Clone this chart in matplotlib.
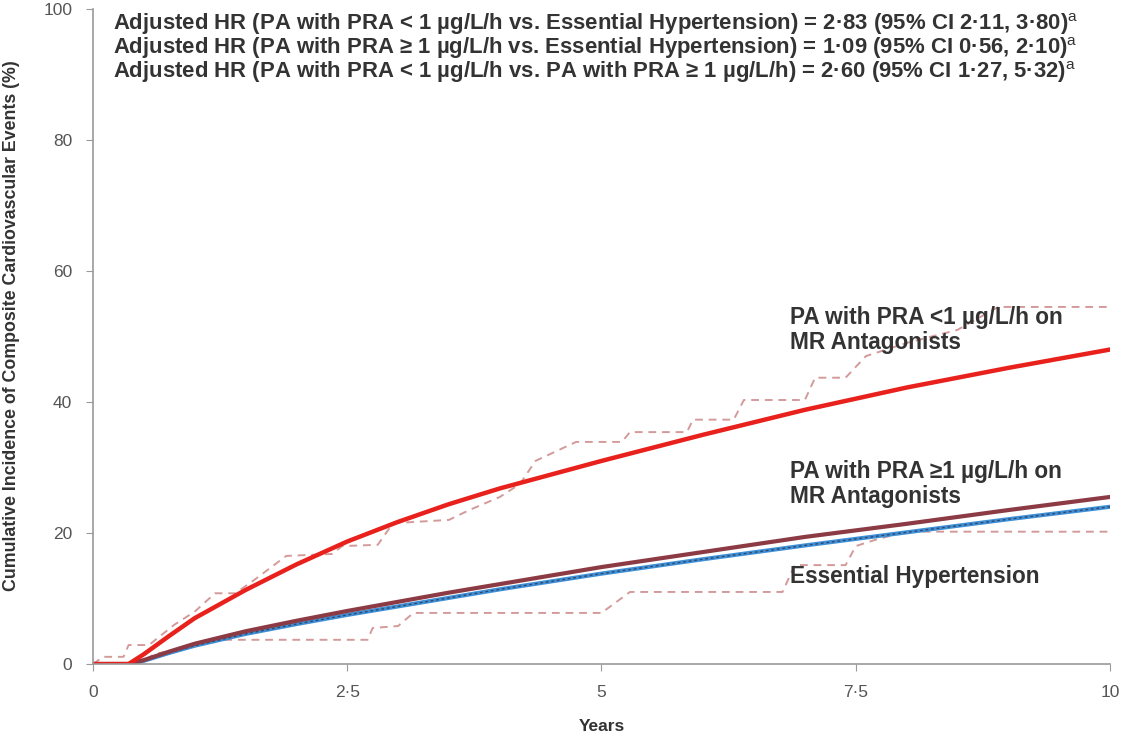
import matplotlib
matplotlib.use("Agg")
import matplotlib.pyplot as plt
from matplotlib.ticker import FuncFormatter

plt.rcParams['font.family'] = ['Liberation Sans', 'DejaVu Sans']
plt.rcParams['mathtext.fontset'] = 'custom'
plt.rcParams['mathtext.rm'] = 'Liberation Sans'

# fitted cumulative incidence curves (years, %)
years = [0, 0.35, 0.5, 0.75, 1.0, 1.5, 2.0, 2.5, 3.0, 3.5, 4.0, 5.0, 6.0, 7.0, 8.0, 9.0, 10.0]
pra_low = [0, 0, 1.5, 4.3, 7.0, 11.3, 15.2, 18.7, 21.7, 24.4, 26.8, 31.0, 35.0, 38.8, 42.2, 45.2, 48.0]
pra_high = [0, 0, 0.6, 1.9, 3.1, 5.0, 6.6, 8.1, 9.5, 10.9, 12.2, 14.8, 17.1, 19.4, 21.4, 23.5, 25.5]
essential = [0, 0, 0.5, 1.7, 2.8, 4.6, 6.1, 7.5, 8.8, 10.1, 11.4, 13.8, 16.0, 18.1, 20.1, 22.1, 24.0]

# 95% CI for PRA < 1 (step-like dashed lines)
ci_up_t = [0, 0.1, 0.3, 0.35, 0.55, 0.8, 1.0, 1.2, 1.4, 1.6, 1.9, 2.35, 2.45, 2.8, 2.95, 3.5, 3.7,
           4.0, 4.2, 4.35, 4.75, 5.2, 5.28, 5.84, 5.9, 6.3, 6.4, 7.0, 7.1, 7.4, 7.6, 8.0, 8.5, 8.9, 10]
ci_up = [0, 1.1, 1.1, 2.9, 2.9, 6.0, 8.0, 10.8, 10.8, 13.0, 16.5, 16.8, 18.0, 18.2, 21.5, 22.0, 23.5,
         25.5, 27.5, 31.0, 33.9, 33.9, 35.4, 35.4, 37.3, 37.3, 40.3, 40.3, 43.7, 43.7, 47.0, 49.0, 51.0, 54.5, 54.5]
ci_lo_t = [0, 0.45, 0.6, 0.9, 1.15, 2.7, 2.75, 3.0, 3.15, 5.0, 5.28, 6.78, 6.9, 7.4, 7.5, 7.7, 8.0, 10]
ci_lo = [0, 0, 1.5, 2.5, 3.7, 3.7, 5.5, 5.8, 7.8, 7.8, 11.0, 11.0, 15.1, 15.1, 18.0, 19.0, 20.2, 20.2]

hr_lines = [
    "Adjusted HR (PA with PRA < 1 µg/L/h vs. Essential Hypertension) = 2·83 (95% CI 2·11, 3·80)",
    "Adjusted HR (PA with PRA ≥ 1 µg/L/h vs. Essential Hypertension) = 1·09 (95% CI 0·56, 2·10)",
    "Adjusted HR (PA with PRA < 1 µg/L/h vs. PA with PRA ≥ 1 µg/L/h) = 2·60 (95% CI 1·27, 5·32)",
]

fig = plt.figure(figsize=(11.3, 7.37), dpi=100)
ax = fig.add_axes([0.0823, 0.099, 0.9, 0.889])

ax.plot(ci_up_t, ci_up, color='#d49a9a', lw=1.4, ls=(0, (4, 3)))
ax.plot(ci_lo_t, ci_lo, color='#d49a9a', lw=1.4, ls=(0, (4, 3)))
ax.plot(years, essential, color='#3d8fd6', lw=3)
ax.plot(years, essential, color='#34486e', lw=1, ls=(0, (2, 2)))
ax.plot(years, pra_high, color='#8c3b45', lw=3)
ax.plot(years, pra_low, color='#e8211c', lw=3.2)

ax.set_xlim(0, 10)
ax.set_ylim(0, 100)
ax.set_xticks([0, 2.5, 5, 7.5, 10])
ax.set_yticks([0, 20, 40, 60, 80, 100])
ax.xaxis.set_major_formatter(FuncFormatter(lambda v, p: ('%g' % v).replace('.', '·')))
for s in ['top', 'right']:
    ax.spines[s].set_visible(False)
for s in ['left', 'bottom']:
    ax.spines[s].set_color('#9a9a9a')
    ax.spines[s].set_linewidth(1.2)
ax.tick_params(colors='#9a9a9a', labelcolor='#555555', labelsize=12.5, length=5)
ax.tick_params(axis='x', pad=10)
ax.tick_params(axis='y', pad=10)

ax.set_xlabel("Years", fontsize=12.5, fontweight='bold', color='#333333', labelpad=14)
ax.set_ylabel("Cumulative Incidence of Composite Cardiovascular Events (%)",
              fontsize=12.8, fontweight='bold', color='#333333')
ax.yaxis.set_label_coords(-0.072, 0.517)

for i, line in enumerate(hr_lines):
    ax.text(0.02, 0.997 - i * 0.0366, line + r"$^{\mathrm{a}}$", transform=ax.transAxes,
            fontsize=15.9, fontweight='bold', color='#333333', va='top')

lab = dict(fontsize=16.3, fontweight='bold', color='#333333', va='center', linespacing=1.15)
ax.text(6.85, 51, "PA with PRA <1 µg/L/h on\nMR Antagonists", **lab)
ax.text(6.85, 27.5, "PA with PRA ≥1 µg/L/h on\nMR Antagonists", **lab)
ax.text(6.85, 13.4, "Essential Hypertension", **lab)

fig.savefig("out.png", dpi=100)
